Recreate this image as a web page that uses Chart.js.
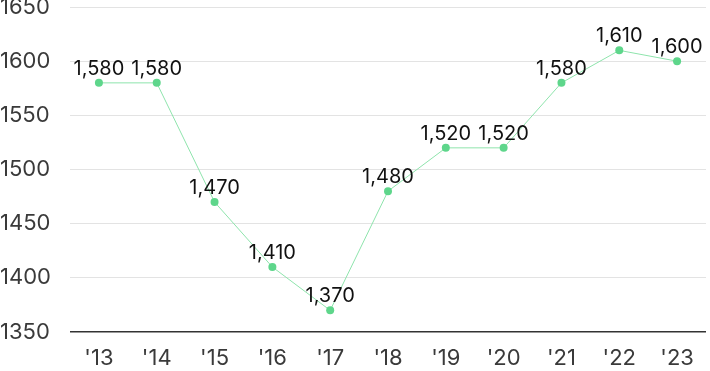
<!DOCTYPE html>
<html>
<head>
<meta charset="utf-8">
<script src="https://cdn.jsdelivr.net/npm/chart.js@4"></script>
<style>
  html, body { margin: 0; padding: 0; background: #fff; }
  #wrap { width: 710px; height: 371px; position: relative; }
</style>
</head>
<body>
<div id="wrap"><canvas id="chart"></canvas></div>
<script>
const years = ["'13", "'14", "'15", "'16", "'17", "'18", "'19", "'20", "'21", "'22", "'23"];
const values = [1580, 1580, 1470, 1410, 1370, 1480, 1520, 1520, 1580, 1610, 1600];
const yTicks = [1350, 1400, 1450, 1500, 1550, 1600, 1650];

// draw the value above each point
const valueLabels = {
  id: "valueLabels",
  afterDatasetsDraw(chart) {
    const ctx = chart.ctx;
    const meta = chart.getDatasetMeta(0);
    ctx.save();
    ctx.font = "20px Inter";
    ctx.fillStyle = "#111";
    ctx.textAlign = "center";
    ctx.textBaseline = "alphabetic";
    meta.data.forEach((pt, i) => {
      ctx.fillText(values[i].toLocaleString("en-US"), pt.x, pt.y - 8);
    });
    ctx.restore();
  }
};

new Chart(document.getElementById("chart"), {
  type: "line",
  data: {
    labels: years,
    datasets: [{
      data: values,
      borderColor: "#8ee4ac",
      borderWidth: 1,
      backgroundColor: "#5ed68b",
      pointBackgroundColor: "#5ed68b",
      pointBorderWidth: 0,
      pointRadius: 4,
      tension: 0
    }]
  },
  options: {
    responsive: true,
    maintainAspectRatio: false,
    animation: false,
    layout: { padding: 0 },
    plugins: { legend: { display: false }, tooltip: { enabled: false } },
    scales: {
      x: {
        offset: true,
        afterFit: axis => { axis.height = 39; },
        grid: { display: false, drawTicks: false },
        border: { display: false },
        ticks: { color: "#3a3a3a", font: { family: "Inter", size: 22 }, padding: 13 }
      },
      y: {
        min: 1350,
        max: 1650,
        afterBuildTicks: axis => { axis.ticks = yTicks.map(v => ({ value: v })); },
        afterFit: axis => { axis.width = 70; },
        grid: {
          drawTicks: false,
          color: ctx => ctx.tick.value === 1350 ? "#333" : "#e3e3e3",
          lineWidth: ctx => ctx.tick.value === 1350 ? 1.5 : 1
        },
        border: { display: false },
        ticks: {
          color: "#3a3a3a",
          font: { family: "Inter", size: 22, lineHeight: 0.64 },
          padding: 0,
          crossAlign: "far",
          callback: v => String(v)
        }
      }
    }
  },
  plugins: [valueLabels]
});
</script>
</body>
</html>
